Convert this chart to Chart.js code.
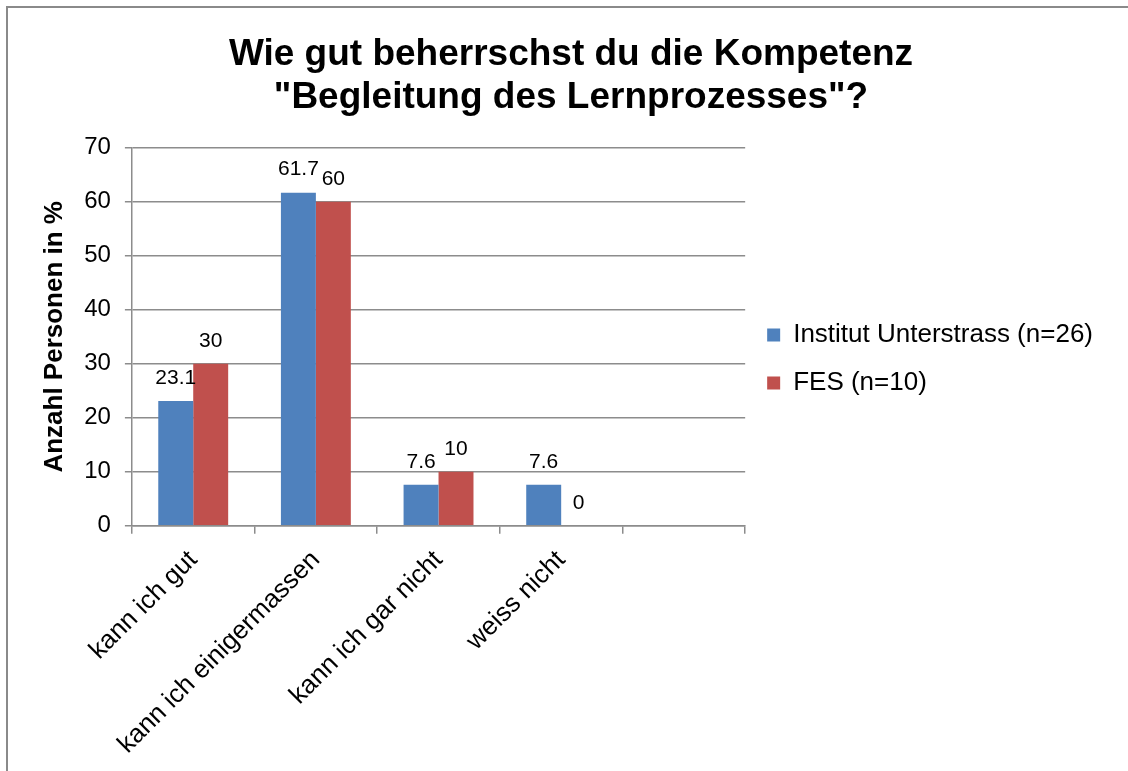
<!DOCTYPE html>
<html>
<head>
<meta charset="utf-8">
<script src="https://cdn.jsdelivr.net/npm/chart.js@4"></script>
<style>
html, body { margin: 0; padding: 0; background: #fff; }
#wrap { position: relative; width: 1128px; height: 771px; }
#frame { position: absolute; left: 6px; top: 6px; right: 0; bottom: -10px; border-left: 2px solid #8a8a8a; border-top: 2px solid #8a8a8a; pointer-events: none; }
</style>
</head>
<body>
<div id="wrap">
<canvas id="myChart" width="1128" height="771"></canvas>
<div id="frame"></div>
</div>
<script>
const categories = ['kann ich gut', 'kann ich einigermassen', 'kann ich gar nicht', 'weiss nicht', ''];
const unterstrass = [23.1, 61.7, 7.6, 7.6, null];
const fes = [30, 60, 10, 0, null];
const seriesNames = ['Institut Unterstrass (n=26)', 'FES (n=10)'];
const titleLines = ['Wie gut beherrschst du die Kompetenz', '"Begleitung des Lernprozesses"?'];
const yTitle = 'Anzahl Personen in %';
const FONT = "'Liberation Sans', Arial, sans-serif";
const gridColor = '#8c8c8c';

// draws the value above each bar
const valueLabels = {
    id: 'valueLabels',
    afterDatasetsDraw(chart) {
        const ctx = chart.ctx;
        ctx.save();
        ctx.font = '21px ' + FONT;
        ctx.fillStyle = '#000';
        ctx.textAlign = 'center';
        ctx.textBaseline = 'middle';
        chart.data.datasets.forEach(function (ds, i) {
            chart.getDatasetMeta(i).data.forEach(function (bar, j) {
                if (ds.data[j] === null) return;
                ctx.fillText(String(ds.data[j]), bar.x, bar.y - 23);
            });
        });
        ctx.restore();
    }
};

const ctx = document.getElementById('myChart');
const myChart = new Chart(ctx, {
    type: 'bar',
    data: {
        labels: categories,
        datasets: [{
            label: seriesNames[0],
            data: unterstrass,
            backgroundColor: '#4F81BD',
            categoryPercentage: 0.57,
            barPercentage: 1.0
        }, {
            label: seriesNames[1],
            data: fes,
            backgroundColor: '#C0504D',
            categoryPercentage: 0.57,
            barPercentage: 1.0
        }]
    },
    plugins: [valueLabels],
    options: {
        responsive: false,
        animation: false,
        layout: {
            padding: { left: 39, right: 25, top: 14, bottom: 0 }
        },
        scales: {
            x: {
                grid: {
                    display: true,
                    drawOnChartArea: false,
                    color: gridColor,
                    lineWidth: 1.5,
                    tickLength: 8
                },
                border: { color: gridColor, width: 1.5 },
                ticks: {
                    color: '#000',
                    padding: 11,
                    maxRotation: 45,
                    minRotation: 45,
                    font: { size: 26, family: FONT }
                }
            },
            y: {
                min: 0,
                max: 70,
                grid: {
                    color: gridColor,
                    lineWidth: 1.5,
                    tickLength: 7
                },
                border: { color: gridColor, width: 1.5 },
                ticks: {
                    stepSize: 10,
                    color: '#000',
                    padding: 14,
                    font: { size: 24, family: FONT }
                },
                title: {
                    display: true,
                    text: yTitle,
                    color: '#000',
                    padding: { top: 0, bottom: 0 },
                    font: { size: 26, weight: 'bold', family: FONT }
                }
            }
        },
        plugins: {
            tooltip: { enabled: false },
            title: {
                display: true,
                text: titleLines,
                color: '#000',
                padding: { top: 19, bottom: 29 },
                font: { size: 37, weight: 'bold', family: FONT, lineHeight: 1.16 }
            },
            legend: {
                position: 'right',
                align: 'start',
                maxWidth: 400,
                title: {
                    display: true,
                    text: ' ',
                    padding: 137,
                    font: { size: 10 }
                },
                labels: {
                    color: '#000',
                    boxWidth: 13,
                    boxHeight: 13,
                    padding: 22,
                    font: { size: 26, family: FONT }
                }
            }
        }
    }
});
</script>
</body>
</html>
